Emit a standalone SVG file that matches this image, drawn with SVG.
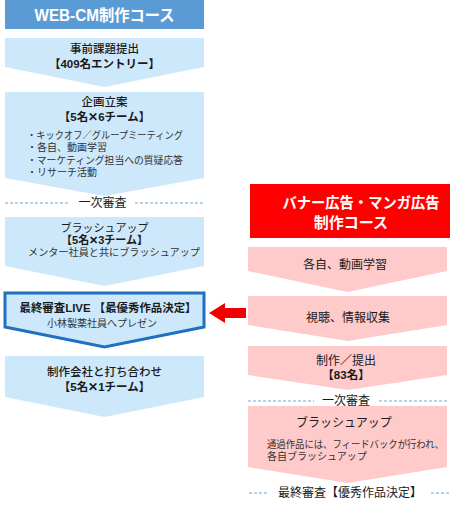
<svg xmlns="http://www.w3.org/2000/svg" width="462" height="519" viewBox="0 0 462 519">
<style>
text{font-family:"Liberation Sans","Noto Sans CJK JP",sans-serif;fill:#1a1a1a;text-anchor:middle;dominant-baseline:central}
.blue{fill:#CDE8FA}
.pink{fill:#FFCACA}
.h{font-size:11.5px;font-weight:500}
.r{font-size:12px;font-weight:400}
.b{font-size:11.5px;font-weight:700}
.s{font-size:10px;fill:#333}
.t{font-size:16px;font-weight:700;fill:#fff}
.tr{font-size:15px;font-weight:700;fill:#fff}
.dash{stroke:#6FA8DC;stroke-width:1.2;stroke-dasharray:3 2;fill:none}
.l{text-anchor:start}
</style>
<g id="title-webcm">
<rect x="5" y="0" width="199" height="29" fill="#5B9BD5"/>
<text class="t" x="104.5" y="15" textLength="140" lengthAdjust="spacingAndGlyphs">WEB-CM制作コース</text>
</g>
<g id="step-kadai">
<path class="blue" d="M5,38 H204 V67 L104.5,87 L5,67 Z"/>
<text class="h" x="104.5" y="49">事前課題提出</text>
<text class="b" x="104.5" y="64">【409名エントリー】</text>
</g>
<g id="step-kikaku">
<path class="blue" d="M5,92 H204 V178 L104.5,196 L5,178 Z"/>
<text class="h" x="104.5" y="102">企画立案</text>
<text class="b" x="104.5" y="117">【5名✕6チーム】</text>
<text class="s l" x="27" y="135" textLength="156" lengthAdjust="spacingAndGlyphs">・キックオフ／グループミーティング</text>
<text class="s l" x="27" y="147.5">・各自、動画学習</text>
<text class="s l" x="27" y="160" textLength="156" lengthAdjust="spacingAndGlyphs">・マーケティング担当への質疑応答</text>
<text class="s l" x="27" y="172.5">・リサーチ活動</text>
</g>
<g id="review1-left">
<line class="dash" x1="5" y1="203" x2="70" y2="203"/>
<line class="dash" x1="135" y1="203" x2="204" y2="203"/>
<text class="r" x="102.5" y="203">一次審査</text>
</g>
<g id="step-brushup-left">
<path class="blue" d="M5,217 H204 V266 L104.5,286 L5,266 Z"/>
<text class="r" x="104.5" y="227.5" style="font-size:11px">ブラッシュアップ</text>
<text class="b" x="104.5" y="240" style="font-size:11px">【5名✕3チーム】</text>
<text class="s" x="114" y="252.5" textLength="172" lengthAdjust="spacingAndGlyphs">メンター社員と共にブラッシュアップ</text>
</g>
<g id="step-final-live">
<path d="M5,293 H204 V327 L104.5,347 L5,327 Z" fill="#CDE8FA" stroke="#1F70C1" stroke-width="3" stroke-linejoin="miter"/>
<text class="b" x="108" y="308" textLength="177" lengthAdjust="spacingAndGlyphs">最終審査LIVE 【最優秀作品決定】</text>
<text class="s" x="102" y="323.5">小林製薬社員へプレゼン</text>
</g>
<g id="step-meeting">
<path class="blue" d="M5,356 H204 V397 L104.5,417 L5,397 Z"/>
<text class="h" x="104.5" y="372">制作会社と打ち合わせ</text>
<text class="b" x="104.5" y="387">【5名✕1チーム】</text>
</g>
<g id="title-banner">
<rect x="250" y="184" width="200" height="54" fill="#FF0000"/>
<text class="tr" x="361" y="202" textLength="157" lengthAdjust="spacingAndGlyphs">バナー広告・マンガ広告</text>
<text class="tr" x="351" y="222">制作コース</text>
</g>
<g id="step-study">
<path class="pink" d="M248,247 H447 V271 L347.5,292 L248,271 Z"/>
<text class="r" x="345" y="265">各自、動画学習</text>
</g>
<g id="step-research">
<path class="pink" d="M248,296 H447 V325 L347.5,341 L248,325 Z"/>
<text class="r" x="348" y="318">視聴、情報収集</text>
</g>
<g id="step-submit">
<path class="pink" d="M248,346 H447 V375 L347.5,390 L248,375 Z"/>
<text class="r" x="346" y="361">制作／提出</text>
<text class="b" x="346" y="375">【83名】</text>
</g>
<g id="review1-right">
<line class="dash" x1="248" y1="401" x2="314" y2="401"/>
<line class="dash" x1="379" y1="401" x2="447" y2="401"/>
<text class="r" x="346" y="401">一次審査</text>
</g>
<g id="step-brushup-right">
<path class="pink" d="M248,406 H447 V467 L347.5,483 L248,467 Z"/>
<text class="r" x="344" y="423">ブラッシュアップ</text>
<text class="s l" x="267" y="444" textLength="177" lengthAdjust="spacingAndGlyphs">通過作品には、フィードバックが行われ、</text>
<text class="s l" x="267" y="456.5">各自ブラッシュアップ</text>
</g>
<g id="final-right">
<line class="dash" x1="249" y1="493" x2="269" y2="493"/>
<line class="dash" x1="431" y1="493" x2="449" y2="493"/>
<text class="r" x="350" y="493">最終審査【優秀作品決定】</text>
</g>
<g id="connectors">
<path d="M246,308 H225 V303 L209,313 L225,323 V318 H246 Z" fill="#F00000"/>
</g>
</svg>
